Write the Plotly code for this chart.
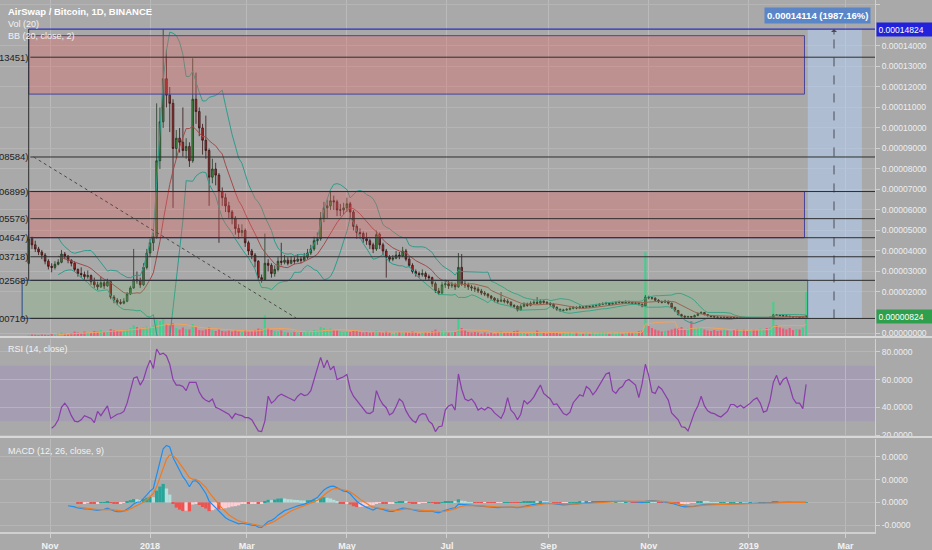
import numpy as np
import pandas as pd
import plotly.graph_objects as go

SCALE = 1e-5  # price values below are in units of 0.00001 BTC

# ---- 2-day bars ----
first_bar = "2017-10-19"
first_open = 3.4
closes = [
    4.6, 4.3, 4.1, 3.95, 3.8, 3.5, 3.25, 3.2, 3.35, 3.45,
    3.85, 3.75, 3.55, 3.4, 3.1, 2.9, 2.85, 2.75, 2.8, 2.5,
    2.35, 2.25, 2.45, 2.3, 2.5, 1.75, 1.6, 1.5, 1.45, 1.55,
    1.9, 2.2, 2.6, 2.55, 2.35, 3.2, 3.9, 4.4, 4.7, 8.4,
    10.3, 12.4, 11.6, 11.2, 9.0, 9.5, 9.3, 8.9, 9.1, 8.4,
    11.4, 10.8, 10.0, 9.4, 8.9, 7.6, 8.0, 7.7, 6.9, 6.6,
    6.2, 5.9, 5.6, 5.1, 4.9, 5.0, 4.4, 4.0, 3.8, 3.5,
    2.7, 2.6, 3.4, 3.3, 2.9, 3.1, 3.5, 3.45, 3.55, 3.4,
    3.55, 3.5, 3.6, 3.55, 3.7, 3.9, 4.1, 4.5, 4.6, 5.6,
    6.1, 6.2, 6.45, 6.4, 6.0, 6.0, 6.1, 6.3, 5.9, 5.2,
    4.9, 4.85, 4.6, 4.5, 4.3, 4.1, 4.8, 4.3, 4.0, 3.7,
    3.6, 3.65, 3.8, 3.75, 4.0, 3.6, 3.3, 3.0, 2.9, 2.85,
    2.9, 2.75, 2.7, 2.4, 2.05, 1.95, 2.35, 2.4, 2.3, 2.35,
    2.25, 3.2, 2.4, 2.35, 2.25, 2.2, 2.15, 2.05, 1.95, 1.9,
    1.8, 1.7, 1.6, 1.55, 1.6, 1.55, 1.5, 1.35, 1.3, 1.12,
    1.3, 1.4, 1.35, 1.45, 1.5, 1.45, 1.55, 1.5, 1.45, 1.4,
    1.25, 1.15, 1.1, 1.12, 1.15, 1.2, 1.25, 1.22, 1.28, 1.25,
    1.3, 1.28, 1.32, 1.35, 1.4, 1.42, 1.45, 1.4, 1.45, 1.48,
    1.5, 1.48, 1.52, 1.5, 1.45, 1.45, 1.4, 1.32, 1.75, 1.72,
    1.7, 1.6, 1.52, 1.5, 1.55, 1.45, 1.25, 1.1, 0.9, 0.82,
    0.78, 0.8, 0.78, 0.85, 0.95, 1.0, 0.9, 0.85, 0.8, 0.78,
    0.77, 0.76, 0.77, 0.75, 0.76, 0.75, 0.74, 0.76, 0.75, 0.74,
    0.75, 0.74, 0.73, 0.74, 0.75, 0.74, 0.76, 0.88, 0.87, 0.85,
    0.83, 0.82, 0.8, 0.79, 0.8, 0.76, 0.78, 0.824,
]
highs = [
    4.85, 4.7, 4.5, 4.2, 4.05, 3.9, 3.6, 3.4, 3.5, 3.6,
    4.05, 3.95, 3.8, 3.6, 3.5, 3.15, 3.2, 3.0, 3.05, 2.85,
    2.7, 2.5, 2.75, 2.6, 2.65, 2.55, 1.85, 1.7, 1.65, 1.7,
    2.0, 2.3, 4.1, 3.0, 2.7, 3.4, 4.1, 4.6, 4.9, 11.2,
    11.0, 14.82, 13.8, 12.0, 11.4, 9.9, 10.0, 11.0, 9.5, 9.3,
    13.4, 12.7, 11.0, 10.2, 10.6, 9.0, 8.5, 8.3, 7.8, 7.1,
    6.8, 6.4, 6.0, 5.7, 5.3, 5.3, 5.1, 4.5, 4.1, 3.9,
    3.55, 2.85, 4.85, 3.6, 3.4, 3.3, 3.7, 4.4, 3.8, 3.7,
    3.75, 3.7, 3.85, 3.75, 3.9, 4.1, 4.3, 4.7, 4.9, 5.9,
    6.4, 6.5, 6.9, 6.7, 6.5, 6.3, 6.35, 6.6, 6.4, 6.0,
    5.3, 5.1, 4.95, 4.9, 4.6, 4.4, 5.0, 4.9, 4.4, 4.1,
    3.8, 3.8, 4.0, 3.95, 4.2, 4.1, 3.7, 3.4, 3.1, 3.0,
    3.1, 3.0, 2.85, 2.75, 2.5, 2.2, 2.5, 2.6, 2.55, 2.5,
    2.45, 3.9, 3.85, 2.55, 2.45, 2.35, 2.3, 2.25, 2.15, 2.05,
    1.95, 1.85, 1.75, 1.7, 2.0, 1.7, 1.65, 1.55, 1.4, 1.35,
    1.4, 1.5, 1.48, 1.55, 1.6, 1.75, 1.65, 1.6, 1.55, 1.5,
    1.45, 1.3, 1.2, 1.18, 1.22, 1.26, 1.3, 1.3, 1.34, 1.32,
    1.36, 1.35, 1.38, 1.42, 1.46, 1.5, 1.52, 1.5, 1.52, 1.55,
    1.58, 1.56, 1.6, 1.58, 1.55, 1.52, 1.5, 1.44, 1.85, 1.82,
    1.76, 1.74, 1.65, 1.58, 1.62, 1.58, 1.48, 1.28, 1.12, 0.94,
    0.86, 0.84, 0.83, 0.9, 1.0, 1.06, 1.02, 0.92, 0.87, 0.82,
    0.8, 0.79, 0.8, 0.79, 0.78, 0.78, 0.77, 0.78, 0.78, 0.77,
    0.77, 0.77, 0.76, 0.76, 0.77, 0.77, 0.8, 0.93, 0.91, 0.9,
    0.87, 0.85, 0.84, 0.82, 0.83, 0.82, 0.8, 0.84,
]
lows = [
    3.35, 4.1, 3.95, 3.8, 3.6, 3.35, 3.1, 2.96, 3.1, 3.3,
    3.4, 3.6, 3.4, 3.25, 3.0, 2.75, 2.7, 2.6, 2.65, 2.35,
    2.2, 2.1, 2.2, 2.15, 2.25, 1.65, 1.45, 1.36, 1.38, 1.4,
    1.5, 1.85, 2.15, 2.4, 2.2, 2.3, 3.1, 3.7, 4.0, 4.6,
    8.0, 10.0, 11.0, 9.8, 6.1, 8.5, 8.8, 8.6, 8.5, 8.1,
    8.3, 10.2, 9.6, 8.7, 8.5, 6.2, 7.3, 7.2, 4.4, 6.2,
    5.9, 5.6, 5.3, 4.8, 4.6, 4.7, 4.2, 3.8, 3.6, 3.2,
    2.55, 2.45, 2.55, 3.0, 2.7, 2.75, 3.0, 3.3, 3.35, 3.3,
    3.35, 3.35, 3.45, 3.4, 3.5, 3.6, 3.8, 4.0, 4.3, 4.5,
    5.4, 5.6, 6.0, 6.0, 5.7, 5.7, 5.8, 5.9, 5.6, 5.0,
    4.6, 4.6, 4.4, 4.3, 4.1, 3.9, 4.0, 4.1, 3.8, 2.7,
    3.45, 3.5, 3.6, 3.6, 3.7, 3.5, 3.2, 2.9, 2.75, 2.7,
    2.75, 2.6, 2.55, 2.25, 1.95, 1.85, 1.9, 2.2, 2.15, 2.2,
    2.1, 2.2, 2.3, 2.2, 2.1, 2.05, 2.0, 1.95, 1.85, 1.8,
    1.7, 1.6, 1.5, 1.45, 1.5, 1.45, 1.4, 1.25, 1.2, 1.05,
    1.1, 1.25, 1.28, 1.3, 1.4, 1.4, 1.4, 1.42, 1.38, 1.3,
    1.18, 1.08, 1.03, 1.05, 1.08, 1.1, 1.15, 1.16, 1.18, 1.2,
    1.22, 1.22, 1.25, 1.28, 1.32, 1.36, 1.38, 1.35, 1.37, 1.4,
    1.43, 1.42, 1.44, 1.44, 1.38, 1.38, 1.34, 1.25, 1.3, 1.64,
    1.62, 1.54, 1.46, 1.44, 1.46, 1.38, 1.18, 1.02, 0.85, 0.77,
    0.74, 0.74, 0.74, 0.76, 0.82, 0.92, 0.86, 0.8, 0.76, 0.74,
    0.74, 0.73, 0.74, 0.72, 0.73, 0.72, 0.71, 0.72, 0.72, 0.71,
    0.72, 0.71, 0.71, 0.71, 0.72, 0.71, 0.72, 0.75, 0.83, 0.82,
    0.8, 0.79, 0.77, 0.76, 0.77, 0.73, 0.74, 0.76,
]
volumes = [
    8, 10, 9, 8, 10, 9, 8, 12, 10, 14,
    18, 14, 12, 16, 22, 18, 16, 22, 18, 16,
    24, 22, 28, 22, 20, 32, 28, 24, 22, 30,
    32, 36, 48, 40, 34, 38, 42, 40, 46, 70,
    64, 72, 52, 46, 56, 36, 30, 38, 32, 30,
    52, 40, 28, 26, 30, 38, 26, 24, 32, 24,
    22, 26, 22, 28, 22, 20, 26, 22, 24, 28,
    34, 30, 88, 36, 28, 24, 22, 26, 20, 18,
    18, 20, 18, 20, 22, 26, 22, 28, 26, 40,
    36, 30, 34, 28, 26, 22, 20, 22, 20, 26,
    24, 20, 18, 20, 18, 20, 26, 20, 18, 24,
    18, 14, 18, 20, 18, 20, 18, 24, 18, 14,
    18, 20, 18, 24, 30, 24, 26, 20, 18, 20,
    20, 76, 36, 26, 20, 18, 20, 18, 14, 18,
    14, 18, 14, 18, 24, 18, 20, 18, 24, 26,
    20, 18, 14, 18, 20, 26, 20, 18, 14, 18,
    20, 18, 14, 18, 14, 18, 14, 18, 14, 14,
    18, 14, 18, 14, 18, 20, 18, 14, 18, 14,
    18, 14, 18, 20, 18, 20, 24, 26, 340, 44,
    36, 30, 26, 22, 24, 26, 30, 34, 36, 40,
    32, 34, 64, 36, 40, 38, 30, 26, 24, 28,
    24, 26, 30, 26, 24, 28, 32, 26, 30, 24,
    26, 30, 28, 34, 30, 36, 38, 140, 48, 38,
    34, 30, 36, 28, 32, 30, 38, 180,
]
rsi_first_bar = 7
rsi_values = [
    24.9, 27, 31, 40, 43, 39.7, 34, 30, 29.5, 31,
    34, 33, 32, 29, 37, 34, 38, 41, 32, 33.5,
    35, 35.5, 37, 43, 53, 61, 62, 56, 60, 68,
    74, 68, 82, 78, 79, 77, 71, 60, 56, 56,
    55, 52, 58, 58, 58, 51, 47, 45, 44, 46,
    40, 39, 37.6, 36.5, 35, 32, 35.5, 34.5, 34, 32.6,
    32.5, 31, 27, 23, 22.5, 30, 48, 43, 45, 48,
    49.5, 48, 47, 46, 44.7, 48, 50, 48.5, 49, 52,
    61, 68, 76, 68.4, 74, 67, 69.7, 60, 61, 62,
    63.7, 53, 48, 45, 42, 39, 36, 35.5, 37, 52,
    46, 42, 39.7, 34.5, 36, 40.5, 46, 44, 37.6, 33.5,
    30.5, 29, 34, 35.5, 35, 30, 28, 22.5, 26, 26.5,
    38, 41, 42, 38, 64, 53, 46, 44.7, 46, 43,
    38, 39.5, 38, 40, 39, 36, 34, 32, 37, 47,
    38, 35.5, 31, 35, 45, 42.5, 44.5, 47.5, 52, 56,
    50, 48, 46, 42, 42.5, 39, 35.5, 34.5, 36.5, 43.3,
    46, 49, 48, 55, 53, 49, 52, 56, 59, 64,
    65, 52, 50, 53.5, 55, 59, 60, 58, 56, 47,
    57, 71, 63, 51, 50, 55, 53, 49, 45, 36,
    33.5, 31, 26, 25.5, 23, 30, 36.5, 41, 48, 41,
    37.5, 36, 35.5, 34, 33, 35, 37, 42, 42, 40,
    41.5, 39.5, 41, 43, 45.5, 46.8, 43, 36.5, 37.5, 45,
    58, 63, 56, 60, 61.5, 55, 46.5, 43, 43, 39,
    56.5,
]

# ---- drawing tools on the chart ----
fib_levels = [13.451, 8.584, 6.899, 5.576, 4.647, 3.718, 2.568, 0.710]
fib_labels = ["(0.00013451)", "(0.00008584)", "(0.00006899)", "(0.00005576)",
              "(0.00004647)", "(0.00003718)", "(0.00002568)", "(0.00000710)"]
fib_start = "2017-10-20"
range_high = 14.824
range_low = 0.710
red_box_tops = [14.5, 6.899]
red_box_bottoms = [11.65, 4.647]
red_box_span = ["2017-10-19", "2019-02-04"]
green_box = [0.710, 2.568]
green_box_span = ["2017-10-15", "2019-02-06"]
trend_line = [("2017-10-22", 8.584), ("2018-03-31", 0.73)]
projection_span = ["2019-02-06", "2019-03-11"]
projection_arrow_date = "2019-02-22"
move_label = "0.00014114 (1987.16%)"
move_label_pos = ("2019-02-12", 15.46)
last_price_label = "0.00000824"
high_price_label = "0.00014824"

x_tick_dates = ["2017-11-01", "2018-01-01", "2018-03-01", "2018-05-01", "2018-07-01",
                "2018-09-01", "2018-11-01", "2019-01-01", "2019-03-01"]
x_tick_text = ["Nov", "2018", "Mar", "May", "Jul", "Sep", "Nov", "2019", "Mar"]
# 0.00001 and 0.00015 sit under the two price labels on the axis
price_ticks = [0, 2, 3, 4, 5, 6, 7, 8, 9, 10, 11, 12, 13, 14, 16]
rsi_ticks = [20, 40, 60, 80]
rsi_tick_text = ["20.0000", "40.0000", "60.0000", "80.0000"]
macd_ticks = [-1e-5, 0, 1e-5, 2e-5]
macd_tick_text = ["-0.0000", "0.0000", "0.0000", "0.0000"]

# ---- styling ----
BG = "#a9a9a9"
GRID = "#b5b5b5"
TXT = "#eeeeee"
FONT = "Liberation Sans, Arial, sans-serif"
PLOT_W, PLOT_H = 875, 532


def px_x(p):
    return p / PLOT_W


def px_y(p):
    return 1 - p / PLOT_H


# ---- derived series ----
dates = pd.date_range(first_bar, periods=len(closes), freq="2D")
close = pd.Series(closes) * SCALE
high = pd.Series(highs) * SCALE
low = pd.Series(lows) * SCALE
open_ = close.shift(1).fillna(first_open * SCALE)

basis = close.rolling(10).mean()
dev = close.rolling(10).std(ddof=0)
bb_up = basis + 2 * dev
bb_dn = basis - 2 * dev

vol = pd.Series(volumes, dtype=float)
vol_ma = vol.rolling(10).mean()
vol_colors = np.where(close >= open_, "#3fd08e", "#ec5a74")

ema_fast = close.ewm(span=6, adjust=False).mean()
ema_slow = close.ewm(span=13, adjust=False).mean()
macd = ema_fast - ema_slow
signal = macd.ewm(span=4.5, adjust=False).mean()
hist = macd - signal
macd[:12] = np.nan
signal[:15] = np.nan
hist[:15] = np.nan
hist_colors = []
prev = 0.0
for h in hist:
    if np.isnan(h):
        hist_colors.append("rgba(0,0,0,0)")
        continue
    if h >= 0:
        hist_colors.append("#26a69a" if h >= prev else "#b2dfdb")
    else:
        hist_colors.append("#ffcdd2" if h >= prev else "#ef5350")
    prev = h

fig = go.Figure()

fig.add_trace(go.Bar(x=dates, y=vol, marker_color=vol_colors, marker_line_width=0,
                     width=1.3 * 86400000, xaxis="x", yaxis="y", showlegend=False))
fig.add_trace(go.Scatter(x=dates, y=vol_ma, mode="lines", line=dict(color="#f2a35e", width=1),
                         xaxis="x", yaxis="y", showlegend=False))

fig.add_trace(go.Scatter(x=dates, y=bb_up, mode="lines", line=dict(color="#2e9c8c", width=1),
                         xaxis="x", yaxis="y2", showlegend=False))
fig.add_trace(go.Scatter(x=dates, y=bb_dn, mode="lines", line=dict(color="#2e9c8c", width=1),
                         xaxis="x", yaxis="y2", showlegend=False))
fig.add_trace(go.Scatter(x=dates, y=basis, mode="lines", line=dict(color="#a44a4a", width=1),
                         xaxis="x", yaxis="y2", showlegend=False))
fig.add_trace(go.Candlestick(
    x=dates, open=open_, high=high, low=low, close=close,
    increasing=dict(fillcolor="#3e8e3e", line=dict(color="#233a23", width=0.8)),
    decreasing=dict(fillcolor="#b42a2a", line=dict(color="#3a1414", width=0.8)),
    xaxis="x", yaxis="y2", showlegend=False))

fig.add_trace(go.Scatter(x=dates[rsi_first_bar:], y=rsi_values, mode="lines",
                         line=dict(color="#8a3cab", width=1.2),
                         xaxis="x", yaxis="y3", showlegend=False))

fig.add_trace(go.Bar(x=dates, y=hist, marker_color=hist_colors, marker_line_width=0,
                     width=2 * 86400000, xaxis="x", yaxis="y4", showlegend=False))
fig.add_trace(go.Scatter(x=dates, y=macd, mode="lines", line=dict(color="#1e8ef2", width=1.2),
                         xaxis="x", yaxis="y4", showlegend=False))
fig.add_trace(go.Scatter(x=dates, y=signal, mode="lines", line=dict(color="#f07a22", width=1.2),
                         xaxis="x", yaxis="y4", showlegend=False))

line_end = dates[-1] + pd.Timedelta(days=45)
shapes = []
# boxes
for top, bot in zip(red_box_tops, red_box_bottoms):
    shapes.append(dict(type="rect", xref="x", yref="y2", x0=red_box_span[0], x1=red_box_span[1],
                       y0=bot * SCALE, y1=top * SCALE, fillcolor="rgba(235,95,95,0.32)",
                       line=dict(color="#45459a", width=1), layer="above"))
shapes.append(dict(type="rect", xref="x", yref="y2", x0=green_box_span[0], x1=green_box_span[1],
                   y0=green_box[0] * SCALE, y1=green_box[1] * SCALE,
                   fillcolor="rgba(120,200,110,0.20)", line=dict(color="#3c5a8e", width=1.2),
                   layer="above"))
# projection
shapes.append(dict(type="rect", xref="x", yref="y2", x0=projection_span[0], x1=projection_span[1],
                   y0=range_low * SCALE, y1=range_high * SCALE,
                   fillcolor="rgba(180,210,250,0.5)", line=dict(width=0), layer="above"))
shapes.append(dict(type="line", xref="x", yref="y2", x0=projection_arrow_date, x1=projection_arrow_date,
                   y0=range_low * SCALE, y1=range_high * SCALE,
                   line=dict(color="#4a4a5a", width=1, dash="dash"), layer="above"))
# fib lines
for lv in fib_levels:
    shapes.append(dict(type="line", xref="x", yref="y2", x0=fib_start, x1=line_end,
                       y0=lv * SCALE, y1=lv * SCALE, line=dict(color="#2e2e2e", width=1), layer="above"))
shapes.append(dict(type="line", xref="x", yref="y2", x0=red_box_span[0], x1=line_end,
                   y0=range_high * SCALE, y1=range_high * SCALE,
                   line=dict(color="#2f2fc0", width=1.3), layer="above"))
shapes.append(dict(type="line", xref="x", yref="y2", x0=red_box_span[0], x1=red_box_span[0],
                   y0=green_box[1] * SCALE, y1=range_high * SCALE,
                   line=dict(color="#2e2e2e", width=1), layer="above"))
shapes.append(dict(type="line", xref="x", yref="y2", x0=trend_line[0][0], x1=trend_line[1][0],
                   y0=trend_line[0][1] * SCALE, y1=trend_line[1][1] * SCALE,
                   line=dict(color="#4a4a4a", width=1, dash="dot"), layer="above"))
# rsi band
shapes.append(dict(type="rect", xref="paper", yref="y3", x0=0, x1=1, y0=30, y1=70,
                   fillcolor="rgba(150,110,210,0.2)", line=dict(width=0), layer="below"))
# panel separators
for p in (337, 437):
    shapes.append(dict(type="line", xref="paper", yref="paper", x0=0, x1=932 / PLOT_W,
                       y0=px_y(p), y1=px_y(p), line=dict(color="#d8d8d8", width=2)))

annotations = []
for lv, txt in zip(fib_levels, fib_labels):
    annotations.append(dict(xref="paper", yref="y2", x=px_x(31), y=lv * SCALE, text=txt,
                            showarrow=False, xanchor="right", yanchor="middle",
                            font=dict(family=FONT, size=9.5, color="#1e1e1e")))
for txt, py, size, bold in [("AirSwap / Bitcoin, 1D, BINANCE", 12, 9.5, True),
                            ("Vol (20)", 24, 9, False), ("BB (20, close, 2)", 36, 9, False),
                            ("RSI (14, close)", 349, 9, False), ("MACD (12, 26, close, 9)", 451, 9, False)]:
    annotations.append(dict(xref="paper", yref="paper", x=px_x(6), y=px_y(py), text=txt,
                            showarrow=False, xanchor="left", yanchor="middle",
                            font=dict(family=FONT, size=size, color="#ffffff" if bold else "#f2f2f2",
                                      weight="bold" if bold else "normal")))
annotations.append(dict(xref="paper", yref="y2", x=1, y=range_high * SCALE, text=high_price_label,
                        showarrow=False, xanchor="left", yanchor="middle", xshift=1, width=54, align="left",
                        bgcolor="#2222dc", borderpad=1.5,
                        font=dict(family=FONT, size=8.5, color="#ffffff")))
annotations.append(dict(xref="paper", yref="y2", x=1, y=closes[-1] * SCALE, text=last_price_label,
                        showarrow=False, xanchor="left", yanchor="middle", xshift=1, width=54, align="left",
                        bgcolor="#2f9f4d", borderpad=1.5,
                        font=dict(family=FONT, size=8.5, color="#ffffff")))
annotations.append(dict(xref="x", yref="y2", x=move_label_pos[0], y=move_label_pos[1] * SCALE,
                        text=move_label, showarrow=False, xanchor="center", yanchor="middle",
                        bgcolor="#5a86c8", borderpad=2,
                        font=dict(family=FONT, size=9.5, color="#ffffff", weight="bold")))
annotations.append(dict(xref="x", yref="y2", x=projection_arrow_date, y=range_high * SCALE, text="",
                        showarrow=True, ax=0, ay=7, arrowhead=1, arrowsize=1, arrowwidth=1,
                        arrowcolor="#4a4a5a"))

axis_font = dict(family=FONT, size=8.5, color=TXT)
common_y = dict(side="right", anchor="x", showgrid=True, gridcolor=GRID, zeroline=False,
                ticks="outside", ticklen=4, tickcolor="#d0d0d0", showline=True,
                linecolor="#d0d0d0", tickfont=axis_font, fixedrange=True)

fig.update_layout(
    width=932, height=550, autosize=False,
    margin=dict(l=0, r=57, t=0, b=18),
    paper_bgcolor=BG, plot_bgcolor=BG,
    font=dict(family=FONT, color=TXT),
    showlegend=False,
    shapes=shapes, annotations=annotations,
    xaxis=dict(domain=[0, 1], anchor="y4", type="date",
               range=["2017-10-01 12:00", "2019-03-19"],
               tickvals=x_tick_dates, ticktext=x_tick_text,
               showgrid=True, gridcolor="#bababa", zeroline=False,
               ticks="outside", ticklen=4, tickcolor="#d0d0d0",
               showline=True, linecolor="#d0d0d0", linewidth=1.5,
               tickfont=dict(family=FONT, size=9, color="#f2f2f2", weight="bold"),
               rangeslider=dict(visible=False)),
    yaxis=dict(domain=[px_y(337), 1], range=[0, 1350], visible=False, fixedrange=True),
    yaxis2=dict(overlaying="y", range=[-0.195 * SCALE, 16.24 * SCALE],
                tickvals=[t * SCALE for t in price_ticks], tickformat=".8f", **common_y),
    yaxis3=dict(domain=[px_y(437), px_y(339)], range=[18.6, 89.2],
                tickvals=rsi_ticks, ticktext=rsi_tick_text, **common_y),
    yaxis4=dict(domain=[0, px_y(439)], range=[-1.3e-5, 2.78e-5],
                tickvals=macd_ticks, ticktext=macd_tick_text, **common_y),
)

fig.write_html("out.html", config={"displayModeBar": False},
               post_script="document.body.style.margin='0';")
